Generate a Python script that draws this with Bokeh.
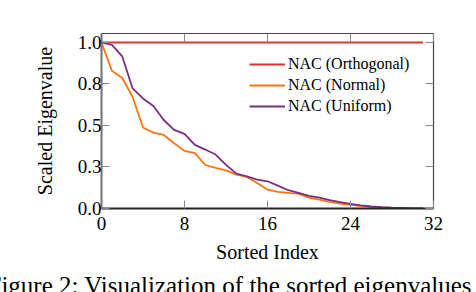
from bokeh.plotting import figure
from bokeh.models import Range1d, FixedTicker, LinearAxis, Legend, LegendItem, Label
from bokeh.embed import file_html
from bokeh.resources import INLINE

# ---- data ----
index = list(range(32))
orthogonal = [1.0] * 32
normal = [1.0, 0.83, 0.786, 0.672, 0.488, 0.457, 0.443, 0.393, 0.347, 0.333,
          0.262, 0.244, 0.23, 0.204, 0.19, 0.154, 0.114, 0.10, 0.094, 0.088,
          0.066, 0.054, 0.040, 0.030, 0.022, 0.014, 0.010, 0.006, 0.004, 0.002,
          0.001, 0.0]
uniform = [1.0, 0.986, 0.916, 0.723, 0.663, 0.617, 0.533, 0.474, 0.449, 0.383,
           0.355, 0.325, 0.263, 0.21, 0.194, 0.174, 0.164, 0.138, 0.11, 0.094,
           0.076, 0.066, 0.050, 0.038, 0.028, 0.019, 0.012, 0.008, 0.005, 0.003,
           0.001, 0.0]
series_names = ["NAC (Orthogonal)", "NAC (Normal)", "NAC (Uniform)"]
x_ticks = [0, 8, 16, 24, 32]
y_ticks = [0.0, 0.25, 0.5, 0.75, 1.0]
y_tick_labels = ["0.0", "0.3", "0.5", "0.8", "1.0"]
x_label = "Sorted Index"
y_label = "Scaled Eigenvalue"
caption = "Figure 2: Visualization of the sorted eigenvalues"

colors = ["#e8302e", "#ff7214", "#77307f"]
FONT = "Liberation Serif"

p = figure(width=476, height=292, output_backend="svg", toolbar_location=None,
           x_range=Range1d(0, 32), y_range=Range1d(0, 1.054),
           min_border_left=101, min_border_right=43, min_border_top=33,
           min_border_bottom=83)
p.grid.visible = False
p.outline_line_color = "#444444"
p.outline_line_width = 1.2
p.background_fill_color = "white"
p.border_fill_color = "white"

r_orth = p.line(index, orthogonal, line_color=colors[0], line_width=2)
r_norm = p.line(index, normal, line_color=colors[1], line_width=1.8)
r_uni = p.line(index, uniform, line_color=colors[2], line_width=1.8)

# main axes
xa = p.xaxis[0]
ya = p.yaxis[0]
xa.ticker = FixedTicker(ticks=x_ticks)
ya.ticker = FixedTicker(ticks=y_ticks)
ya.major_label_overrides = {t: lab for t, lab in zip(y_ticks, y_tick_labels)}
for ax in (xa, ya):
    ax.major_tick_in = 8
    ax.major_tick_out = 0
    ax.minor_tick_in = 0
    ax.minor_tick_out = 0
    ax.major_tick_line_color = "#888888"
    ax.major_label_text_font = FONT
    ax.major_label_text_font_size = "19px"
    ax.major_label_text_color = "black"
    ax.axis_label_text_font = FONT
    ax.axis_label_text_font_size = "20px"
    ax.axis_label_text_font_style = "normal"
    ax.axis_label_text_color = "black"
xa.axis_label = x_label
ya.axis_label = y_label
xa.axis_line_color = "#222222"
xa.axis_line_width = 2
ya.axis_line_color = "#777777"
ya.axis_line_width = 2
xa.major_label_standoff = 8
ya.major_label_standoff = 0
xa.axis_label_standoff = 8
ya.axis_label_standoff = 19

# mirrored ticks on top and right
top = LinearAxis(ticker=FixedTicker(ticks=x_ticks),
                 major_label_overrides={t: "" for t in x_ticks})
right = LinearAxis(ticker=FixedTicker(ticks=y_ticks),
                   major_label_overrides={t: "" for t in y_ticks})
for ax in (top, right):
    ax.major_tick_in = 8
    ax.major_tick_out = 0
    ax.minor_tick_in = 0
    ax.minor_tick_out = 0
    ax.major_tick_line_color = "#888888"
    ax.axis_line_color = None
    ax.major_label_text_font_size = "1px"
    ax.major_label_standoff = 0
p.add_layout(top, "above")
p.add_layout(right, "right")

legend = Legend(items=[LegendItem(label=series_names[0], renderers=[r_orth]),
                       LegendItem(label=series_names[1], renderers=[r_norm]),
                       LegendItem(label=series_names[2], renderers=[r_uni])],
                location=(148, 92))
legend.border_line_color = None
legend.background_fill_alpha = 0
legend.padding = 0
legend.margin = 0
legend.spacing = 1
legend.glyph_width = 36
legend.glyph_height = 20
legend.label_height = 20
legend.label_standoff = 3
legend.label_text_font = FONT
legend.label_text_font_size = "16px"
legend.label_text_color = "black"
p.add_layout(legend, "center")

cap = Label(x=-114, y=7, x_units="screen", y_units="screen", text=caption,
            text_font=FONT, text_font_size="25px", text_color="black",
            text_baseline="alphabetic")
p.add_layout(cap, "below")

open("out.html", "w").write(file_html(p, INLINE))
